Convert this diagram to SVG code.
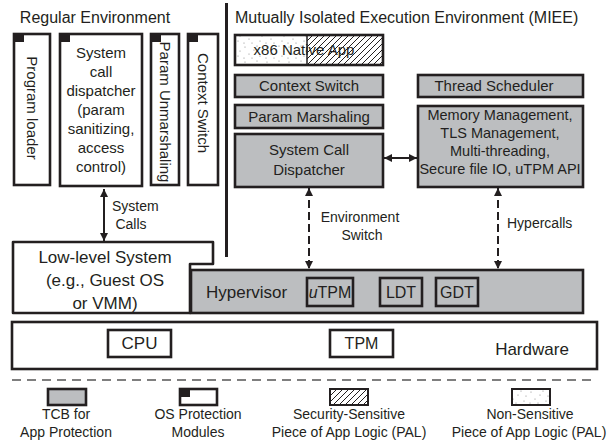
<svg xmlns="http://www.w3.org/2000/svg" width="608" height="443" viewBox="0 0 608 443">
  <style>
    text { font-family: "Liberation Sans", Arial, sans-serif; fill: #231f20; }
    .box { fill: #ffffff; stroke: #231f20; stroke-width: 2.6; }
    .tcb { fill: #bcbec0; stroke: #231f20; stroke-width: 2.6; }
    .inner { fill: none; stroke: #231f20; stroke-width: 2.6; }
    .corner { fill: #231f20; }
    .t15 { font-size: 15px; }
    .t14 { font-size: 14px; }
    .t145 { font-size: 14.5px; }
    .t16 { font-size: 16px; }
    .t17 { font-size: 17px; }
    .mid { text-anchor: middle; }
    .wire { stroke: #231f20; stroke-width: 2; fill: none; }
    .dash { stroke-dasharray: 8 4; }
  </style>
  <defs>
    <marker id="head" viewBox="0 0 10 10" refX="10" refY="5" markerWidth="11" markerHeight="8" markerUnits="userSpaceOnUse" orient="auto-start-reverse">
      <path d="M0,0 L10,5 L0,10 Z" fill="#231f20"/>
    </marker>
    <pattern id="hatch" patternUnits="userSpaceOnUse" width="6" height="6">
      <path d="M-1,1 L1,-1 M0,6 L6,0 M5,7 L7,5" stroke="#231f20" stroke-width="1"/>
    </pattern>
    <pattern id="dots" patternUnits="userSpaceOnUse" width="22" height="15">
      <rect width="22" height="15" fill="#ffffff"/>
      <circle cx="3" cy="2" r="0.6" fill="#8a8a8a"/>
      <circle cx="12" cy="5" r="0.6" fill="#8a8a8a"/>
      <circle cx="18" cy="11" r="0.6" fill="#8a8a8a"/>
      <circle cx="7" cy="9" r="0.6" fill="#8a8a8a"/>
      <circle cx="15" cy="1" r="0.6" fill="#8a8a8a"/>
      <circle cx="2" cy="13" r="0.6" fill="#8a8a8a"/>
      <circle cx="10" cy="13" r="0.6" fill="#8a8a8a"/>
      <circle cx="20" cy="6" r="0.6" fill="#8a8a8a"/>
    </pattern>
  </defs>

  <!-- section titles and divider -->
  <text class="t16" x="95" y="23" text-anchor="middle">Regular Environment</text>
  <text class="t16" x="235" y="23">Mutually Isolated Execution Environment (MIEE)</text>
  <line x1="226.5" y1="3" x2="226.5" y2="257" stroke="#231f20" stroke-width="3"/>

  <!-- regular environment modules -->
  <g id="program-loader">
    <rect class="box" x="14" y="34" width="36" height="151"/>
    <rect class="corner" x="15" y="35" width="9" height="7"/>
    <text class="t15 mid" transform="translate(32,108) rotate(90)" y="5">Program loader</text>
  </g>
  <g id="os-dispatcher">
    <rect class="box" x="60" y="34" width="82" height="152"/>
    <rect class="corner" x="61" y="35" width="9" height="7"/>
    <text class="t15 mid" x="101" y="58">System</text>
    <text class="t15 mid" x="101" y="77">call</text>
    <text class="t15 mid" x="101" y="96">dispatcher</text>
    <text class="t15 mid" x="101" y="115">(param</text>
    <text class="t15 mid" x="101" y="134">sanitizing,</text>
    <text class="t15 mid" x="101" y="153">access</text>
    <text class="t15 mid" x="101" y="172">control)</text>
  </g>
  <g id="param-unmarshaling">
    <rect class="box" x="151" y="34" width="28" height="151"/>
    <rect class="corner" x="152" y="35" width="9" height="7"/>
    <text class="t15 mid" transform="translate(165,112) rotate(90)" y="5">Param Unmarshaling</text>
  </g>
  <g id="os-context-switch">
    <rect class="box" x="188" y="34" width="30" height="151"/>
    <rect class="corner" x="189" y="35" width="9" height="7"/>
    <text class="t15 mid" transform="translate(203,103) rotate(90)" y="5">Context Switch</text>
  </g>

  <!-- MIEE components -->
  <g id="native-app">
    <rect x="235" y="35" width="72" height="30" fill="url(#dots)"/>
    <rect x="307" y="35" width="76" height="30" fill="url(#hatch)"/>
    <line x1="307" y1="35" x2="307" y2="65" stroke="#231f20" stroke-width="1.5"/>
    <rect class="inner" x="235" y="35" width="148" height="30"/>
    <text class="t15 mid" x="304" y="55">x86 Native App</text>
  </g>
  <g id="context-switch">
    <rect class="tcb" x="235" y="75" width="148" height="22"/>
    <text class="t15 mid" x="309" y="91">Context Switch</text>
  </g>
  <g id="thread-scheduler">
    <rect class="tcb" x="418" y="75" width="165" height="22"/>
    <text class="t15 mid" x="494" y="91">Thread Scheduler</text>
  </g>
  <g id="param-marshaling">
    <rect class="tcb" x="235" y="105" width="148" height="23"/>
    <text class="t15 mid" x="309" y="122">Param Marshaling</text>
  </g>
  <g id="syscall-dispatcher">
    <rect class="tcb" x="235" y="134" width="148" height="53"/>
    <text class="t15 mid" x="309" y="155">System Call</text>
    <text class="t15 mid" x="309" y="175">Dispatcher</text>
  </g>
  <g id="runtime-services">
    <rect class="tcb" x="418" y="106" width="165" height="81"/>
    <text class="t145 mid" x="500" y="120">Memory Management,</text>
    <text class="t145 mid" x="500" y="138">TLS Management,</text>
    <text class="t145 mid" x="500" y="156">Multi-threading,</text>
    <text class="t145 mid" x="500" y="174">Secure file IO, uTPM API</text>
  </g>

  <!-- lower layers -->
  <g id="low-level-system">
    <path class="box" d="M13,242 H213 V264 H190 V313 H13 Z" stroke-linejoin="round"/>
    <text class="t17 mid" x="105" y="263">Low-level System</text>
    <text class="t17 mid" x="105" y="286">(e.g., Guest  OS</text>
    <text class="t17 mid" x="105" y="309">or VMM)</text>
  </g>
  <g id="hypervisor">
    <rect class="tcb" x="191" y="270" width="392" height="43"/>
    <text class="t17" x="206" y="298">Hypervisor</text>
    <rect class="inner" x="307" y="278" width="46" height="28"/>
    <text class="t16 mid" x="330" y="298"><tspan font-style="italic">u</tspan>TPM</text>
    <rect class="inner" x="380" y="278" width="42" height="28"/>
    <text class="t16 mid" x="401" y="298">LDT</text>
    <rect class="inner" x="436" y="278" width="42" height="28"/>
    <text class="t16 mid" x="457" y="298">GDT</text>
  </g>
  <g id="hardware">
    <rect class="box" x="12" y="322" width="585" height="47"/>
    <rect class="inner" x="108" y="330" width="63" height="27"/>
    <text class="t17 mid" x="139.5" y="349">CPU</text>
    <rect class="inner" x="330" y="330" width="63" height="27"/>
    <text class="t16 mid" x="361.5" y="349">TPM</text>
    <text class="t17 mid" x="532" y="355">Hardware</text>
  </g>

  <!-- connectors -->
  <g id="connectors">
    <line class="wire" x1="104" y1="189" x2="104" y2="241" marker-start="url(#head)" marker-end="url(#head)"/>
    <text class="t14" x="112" y="211">System</text>
    <text class="t14 mid" x="131" y="229">Calls</text>
    <line class="wire dash" x1="309" y1="188" x2="309" y2="269" marker-start="url(#head)" marker-end="url(#head)"/>
    <text class="t14 mid" x="360" y="222">Environment</text>
    <text class="t14 mid" x="362" y="240">Switch</text>
    <line class="wire dash" x1="498" y1="188" x2="498" y2="269" marker-start="url(#head)" marker-end="url(#head)"/>
    <text class="t14" x="507" y="228">Hypercalls</text>
    <line class="wire" x1="384" y1="158" x2="417" y2="158" marker-start="url(#head)" marker-end="url(#head)"/>
  </g>

  <!-- legend -->
  <line x1="12" y1="380" x2="597" y2="380" stroke="#555555" stroke-width="1.5" stroke-dasharray="9 6"/>
  <g id="legend-tcb">
    <rect class="tcb" x="48" y="389" width="38" height="16"/>
    <text class="t14 mid" x="66" y="419">TCB for</text>
    <text class="t14 mid" x="66" y="437">App Protection</text>
  </g>
  <g id="legend-os">
    <rect class="box" x="180" y="389" width="37" height="16"/>
    <rect class="corner" x="181" y="390" width="9" height="7"/>
    <text class="t14 mid" x="198" y="419">OS Protection</text>
    <text class="t14 mid" x="198" y="437">Modules</text>
  </g>
  <g id="legend-sensitive">
    <rect x="330" y="389" width="38" height="16" fill="url(#hatch)" stroke="#231f20" stroke-width="2"/>
    <text class="t14 mid" x="349" y="419">Security-Sensitive</text>
    <text class="t14 mid" x="349" y="437">Piece of App Logic (PAL)</text>
  </g>
  <g id="legend-nonsensitive">
    <rect x="512" y="389" width="38" height="16" fill="url(#dots)" stroke="#231f20" stroke-width="2"/>
    <text class="t14 mid" x="530" y="419">Non-Sensitive</text>
    <text class="t14 mid" x="529" y="437">Piece of App Logic (PAL)</text>
  </g>
</svg>
